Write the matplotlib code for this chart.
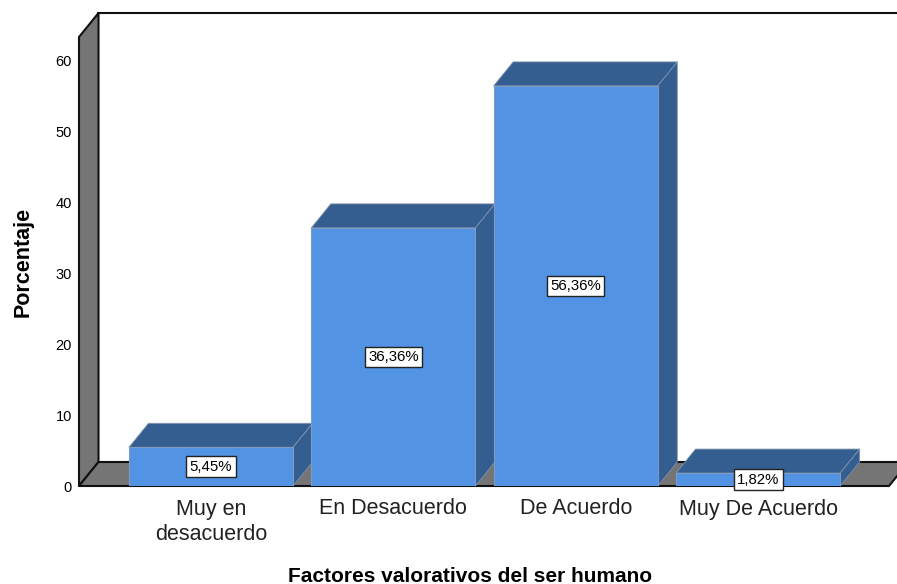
import matplotlib
matplotlib.use("Agg")
import matplotlib.pyplot as plt
from matplotlib.patches import Polygon

plt.rcParams['font.family'] = ['Liberation Sans', 'DejaVu Sans']

categorias = ["Muy en\ndesacuerdo", "En Desacuerdo", "De Acuerdo", "Muy De Acuerdo"]
porcentajes = [5.45, 36.36, 56.36, 1.82]
etiquetas = ["5,45%", "36,36%", "56,36%", "1,82%"]
ticks_y = [0, 10, 20, 30, 40, 50, 60]

AZUL = "#5293e4"
AZUL_OSCURO = "#345d90"
GRIS = "#757575"
ANCHO = 0.9

W, H = 897, 584
fig = plt.figure(figsize=(W / 100, H / 100), dpi=100)
# ejes en pixeles de la imagen: x 79-889, y 486-37
ax = fig.add_axes([79 / W, 1 - 486 / H, (889 - 79) / W, (486 - 37) / H])
ax.set_xlim(-0.724, 3.718)
ax.set_ylim(0, 63.25)

# profundidad del efecto 3D en unidades de datos
px_x = (3.718 + 0.724) / (889 - 79)
px_y = 63.25 / (486 - 37)
dx = 19.5 * px_x
dy = 24 * px_y

x0, x1 = ax.get_xlim()
y1 = ax.get_ylim()[1]


def caja(puntos, color, ec="#111111", lw=1.5, z=1):
    ax.add_patch(Polygon(puntos, closed=True, fc=color, ec=ec, lw=lw, zorder=z,
                         clip_on=False, joinstyle="round"))


# pared izquierda, piso y fondo
caja([(x0, 0), (x0 + dx, dy), (x0 + dx, y1 + dy), (x0, y1)], GRIS)
caja([(x0, 0), (x1, 0), (x1 + dx, dy), (x0 + dx, dy)], GRIS)
ax.plot([x0 + dx, x1 + dx], [y1 + dy, y1 + dy], color="#111111", lw=1.5, clip_on=False, zorder=1)

# barras
barras = ax.bar(range(4), porcentajes, width=ANCHO, color=AZUL, edgecolor="#7f9cc0",
                linewidth=0.8, zorder=3)
for i, v in enumerate(porcentajes):
    a = i - ANCHO / 2
    b = i + ANCHO / 2
    caja([(a, v), (b, v), (b + dx, v + dy), (a + dx, v + dy)], AZUL_OSCURO, ec="#7f93ad", lw=0.6, z=2 + 0.1 * i)
    caja([(b, 0), (b + dx, dy), (b + dx, v + dy), (b, v)], AZUL_OSCURO, ec="#7f93ad", lw=0.6, z=2 + 0.1 * i)
    ax.text(i, v / 2, etiquetas[i], ha="center", va="center", fontsize=10.8, color="black", zorder=5,
            bbox=dict(boxstyle="square,pad=0.22", fc="white", ec="#222222", lw=1))

ax.set_xticks(range(4))
ax.set_xticklabels(categorias, fontsize=15.5, color="#222222", linespacing=1.28)
ax.set_yticks(ticks_y)
ax.set_yticklabels(ticks_y, fontsize=10.5, color="black")
ax.tick_params(axis="both", length=0, pad=5)
ax.tick_params(axis="x", pad=9)
for s in ax.spines.values():
    s.set_visible(False)
ax.patch.set_visible(False)

fig.text(470 / W, 1 - 577 / H, "Factores valorativos del ser humano", fontsize=15, fontweight="bold",
         ha="center", va="center")
fig.text(23 / W, 1 - 262 / H, "Porcentaje", fontsize=15.5, fontweight="bold", rotation=90,
         ha="center", va="center")

fig.savefig("out.png", dpi=100)
